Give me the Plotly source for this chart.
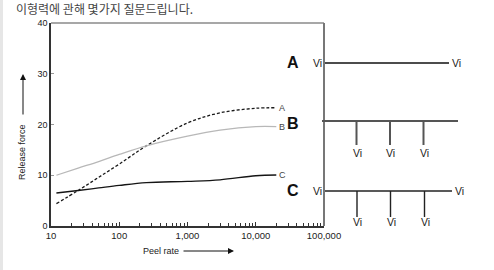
import plotly.graph_objects as go
import numpy as np

# ---- data ----
peel_rate = [12, 25, 50, 100, 250, 1000, 3000, 10000, 20000]
force_A = [4.4, 7.0, 9.6, 12.2, 15.8, 20.3, 22.3, 23.2, 23.3]
force_B = [10.0, 11.4, 12.7, 14.1, 15.8, 17.7, 18.9, 19.6, 19.6]
force_C = [6.5, 7.0, 7.5, 8.0, 8.55, 8.8, 9.1, 9.9, 10.05]
series_names = ["A", "B", "C"]
x_tickvals = [10, 100, 1000, 10000, 100000]
x_ticktext = ["10", "100", "1,000", "10,000", "100,000"]
y_tickvals = [0, 10, 20, 30, 40]
title_text = "이형력에 관해 몇가지 질문드립니다."

# ---- layout geometry (pixels) ----
W, H = 494, 270
L, R, T, B = 51, 170, 23, 44
PW, PH = W - L - R, H - T - B


def px(x):
    return (x - L) / PW


def py(y):
    return (H - B - y) / PH


FONT = "Liberation Sans, Arial, sans-serif"
fig = go.Figure()

styles = {
    "A": dict(color="#1a1a1a", width=1.3, dash="3px,2px"),
    "B": dict(color="#b8b8b8", width=1.3),
    "C": dict(color="#151515", width=1.3),
}
for name, ys in zip(series_names, [force_A, force_B, force_C]):
    fig.add_trace(go.Scatter(x=peel_rate, y=ys, mode="lines", name=name,
                             line=dict(shape="spline", smoothing=1.0, **styles[name]),
                             showlegend=False, hoverinfo="skip"))
    fig.add_annotation(x=np.log10(peel_rate[-1]), y=ys[-1], xref="x", yref="y",
                       text=name, showarrow=False, xanchor="left", yanchor="middle",
                       xshift=1, font=dict(family=FONT, size=9, color="#444"))

annotations = []
shapes = []

# title
annotations.append(dict(x=px(14), y=py(8.5), xref="paper", yref="paper", text=title_text,
                        showarrow=False, xanchor="left", yanchor="middle",
                        font=dict(family="Noto Sans CJK KR", size=12, color="#444")))

# frame top & right (gray)
shapes.append(dict(type="line", xref="paper", yref="paper", x0=0, x1=1, y0=1, y1=1,
                   line=dict(color="#8a8a8a", width=1.5)))
shapes.append(dict(type="line", xref="paper", yref="paper", x0=1, x1=1, y0=0, y1=1,
                   line=dict(color="#777", width=2)))

# left light strip
shapes.append(dict(type="rect", xref="paper", yref="paper", x0=px(0), x1=px(3), y0=py(270), y1=py(0),
                   line=dict(width=0), fillcolor="#e6e6e6", layer="below"))

# axis title: Release force + arrow
annotations.append(dict(x=px(22), y=py(152), xref="paper", yref="paper", text="Release force",
                        showarrow=False, textangle=-90, xanchor="center", yanchor="middle",
                        font=dict(family=FONT, size=9, color="#222")))
annotations.append(dict(x=px(23), y=py(74), xref="paper", yref="paper", text="", showarrow=True,
                        ax=0, ay=42, arrowhead=2, arrowsize=1.2, arrowwidth=1, arrowcolor="#111"))

# axis title: Peel rate + arrow
annotations.append(dict(x=px(161), y=py(251), xref="paper", yref="paper", text="Peel rate",
                        showarrow=False, xanchor="center", yanchor="middle",
                        font=dict(family=FONT, size=9, color="#222")))
annotations.append(dict(x=px(234), y=py(251), xref="paper", yref="paper", text="", showarrow=True,
                        ax=-52, ay=0, arrowhead=2, arrowsize=1.2, arrowwidth=1, arrowcolor="#111"))

# big letters
for letter, yy in [("A", 63), ("B", 124), ("C", 190)]:
    annotations.append(dict(x=px(293), y=py(yy), xref="paper", yref="paper", text="<b>%s</b>" % letter,
                            showarrow=False, xanchor="center", yanchor="middle",
                            font=dict(family=FONT, size=16, color="#111")))


def vi(x, y, anchor="center"):
    annotations.append(dict(x=px(x), y=py(y), xref="paper", yref="paper", text="Vi", showarrow=False,
                            xanchor=anchor, yanchor="middle",
                            font=dict(family=FONT, size=10.5, color="#222")))


def seg(x0, y0, x1, y1, color="#111", width=1.3):
    shapes.append(dict(type="line", xref="paper", yref="paper", x0=px(x0), y0=py(y0),
                       x1=px(x1), y1=py(y1), line=dict(color=color, width=width)))


# diagram A
seg(325, 63, 449, 63)
vi(324, 63, "right")
vi(450, 63, "left")

# diagram B
seg(322, 121, 458, 121, color="#555", width=2)
for xv in [356.5, 390, 423.5]:
    seg(xv, 121, xv, 145, color="#555", width=2)
    vi(xv + 0.5, 153)

# diagram C
seg(325, 191, 452, 191, color="#222", width=1.4)
vi(324, 191, "right")
vi(453, 191, "left")
for xv in [357, 390.5, 424.5]:
    seg(xv, 191, xv, 217, color="#222", width=1.4)
    vi(xv + 0.5, 222)

fig.update_layout(
    width=W, height=H,
    margin=dict(l=L, r=R, t=T, b=B),
    paper_bgcolor="white", plot_bgcolor="white",
    annotations=list(fig.layout.annotations) + annotations,
    shapes=shapes,
    xaxis=dict(type="log", range=[1, 5], tickvals=x_tickvals, ticktext=x_ticktext,
               ticks="inside", ticklen=4, tickcolor="#333", showgrid=False, zeroline=False,
               showline=True, linecolor="#333", linewidth=1.5,
               minor=dict(ticks="inside", ticklen=3, tickcolor="#333", dtick="D1", showgrid=False),
               tickfont=dict(family=FONT, size=9.5, color="#222")),
    yaxis=dict(range=[0, 40], tickvals=y_tickvals, ticks="inside", ticklen=3, tickcolor="#999",
               showgrid=False, zeroline=False, showline=True, linecolor="#333", linewidth=1.5,
               tickfont=dict(family=FONT, size=9, color="#222")),
)

fig.write_html("out.html")
